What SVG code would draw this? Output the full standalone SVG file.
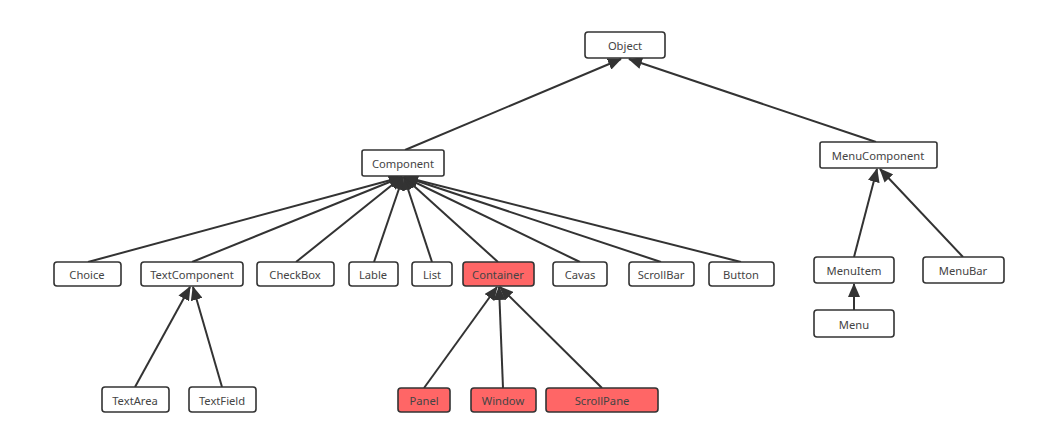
<svg xmlns="http://www.w3.org/2000/svg" width="1041" height="436" viewBox="0 0 1041 436">
<style>
.n rect{fill:#fff;stroke:#333;stroke-width:1.6}
.n.r rect{fill:#ff6666}
.n text{font-family:"Noto Sans","Open Sans",sans-serif;font-size:11.2px;fill:#444;text-anchor:middle;dominant-baseline:central}
.c path{fill:none;stroke:#333;stroke-width:2;marker-end:url(#a)}
</style>
<defs>
<marker id="a" markerUnits="userSpaceOnUse" markerWidth="14" markerHeight="12" viewBox="0 0 14 12" refX="13" refY="6" orient="auto">
<path d="M0,0 L14,6 L0,12 Z" fill="#333"/>
</marker>
</defs>
<rect width="1041" height="436" fill="#fff"/>
<g class="c">
<path d="M405,150 L621,59"/>
<path d="M876,142 L629,59"/>
<path d="M88,262 L402,177"/>
<path d="M192,262 L402,177"/>
<path d="M296,262 L402,177"/>
<path d="M374,262 L403,177"/>
<path d="M432,262 L404,177"/>
<path d="M498,262 L404,177"/>
<path d="M580,262 L404,177"/>
<path d="M661,262 L405,177"/>
<path d="M741,262 L405,177"/>
<path d="M135,387 L190,287"/>
<path d="M222,387 L193,287"/>
<path d="M424,388 L497,287"/>
<path d="M503,388 L499,287"/>
<path d="M602,388 L500,287"/>
<path d="M854,257 L877,169"/>
<path d="M963,257 L880,169"/>
<path d="M854,310 L854,284"/>
</g>
<g id="object" class="n"><rect x="585" y="32" width="80" height="26" rx="3"/><text x="625" y="45">Object</text></g>
<g id="component" class="n"><rect x="362" y="150" width="82" height="26" rx="2"/><text x="403" y="163">Component</text></g>
<g id="menucomponent" class="n"><rect x="820" y="142" width="117" height="26" rx="2"/><text x="878" y="155">MenuComponent</text></g>
<g id="choice" class="n"><rect x="54" y="262" width="67" height="24" rx="3"/><text x="87" y="274">Choice</text></g>
<g id="textcomponent" class="n"><rect x="141" y="262" width="102" height="24" rx="3"/><text x="192" y="274">TextComponent</text></g>
<g id="checkbox" class="n"><rect x="257" y="262" width="77" height="24" rx="3"/><text x="295" y="274">CheckBox</text></g>
<g id="lable" class="n"><rect x="349" y="262" width="49" height="24" rx="3"/><text x="373" y="274">Lable</text></g>
<g id="list" class="n"><rect x="412" y="262" width="40" height="24" rx="3"/><text x="432" y="274">List</text></g>
<g id="container" class="n r"><rect x="463" y="262" width="71" height="24" rx="3"/><text x="498" y="274">Container</text></g>
<g id="cavas" class="n"><rect x="553" y="262" width="54" height="24" rx="3"/><text x="580" y="274">Cavas</text></g>
<g id="scrollbar" class="n"><rect x="629" y="262" width="65" height="24" rx="3"/><text x="661" y="274">ScrollBar</text></g>
<g id="button" class="n"><rect x="709" y="262" width="65" height="24" rx="3"/><text x="741" y="274">Button</text></g>
<g id="menuitem" class="n"><rect x="814" y="257" width="80" height="26" rx="3"/><text x="854" y="270">MenuItem</text></g>
<g id="menubar" class="n"><rect x="923" y="257" width="81" height="26" rx="3"/><text x="963" y="270">MenuBar</text></g>
<g id="menu" class="n"><rect x="814" y="310" width="80" height="27" rx="3"/><text x="854" y="324">Menu</text></g>
<g id="textarea" class="n"><rect x="102" y="387" width="67" height="25" rx="3"/><text x="135" y="400">TextArea</text></g>
<g id="textfield" class="n"><rect x="189" y="387" width="67" height="25" rx="3"/><text x="222" y="400">TextField</text></g>
<g id="panel" class="n r"><rect x="398" y="388" width="52" height="24" rx="3"/><text x="424" y="400">Panel</text></g>
<g id="window" class="n r"><rect x="471" y="388" width="65" height="24" rx="3"/><text x="503" y="400">Window</text></g>
<g id="scrollpane" class="n r"><rect x="546" y="388" width="112" height="24" rx="3"/><text x="602" y="400">ScrollPane</text></g>
</svg>
